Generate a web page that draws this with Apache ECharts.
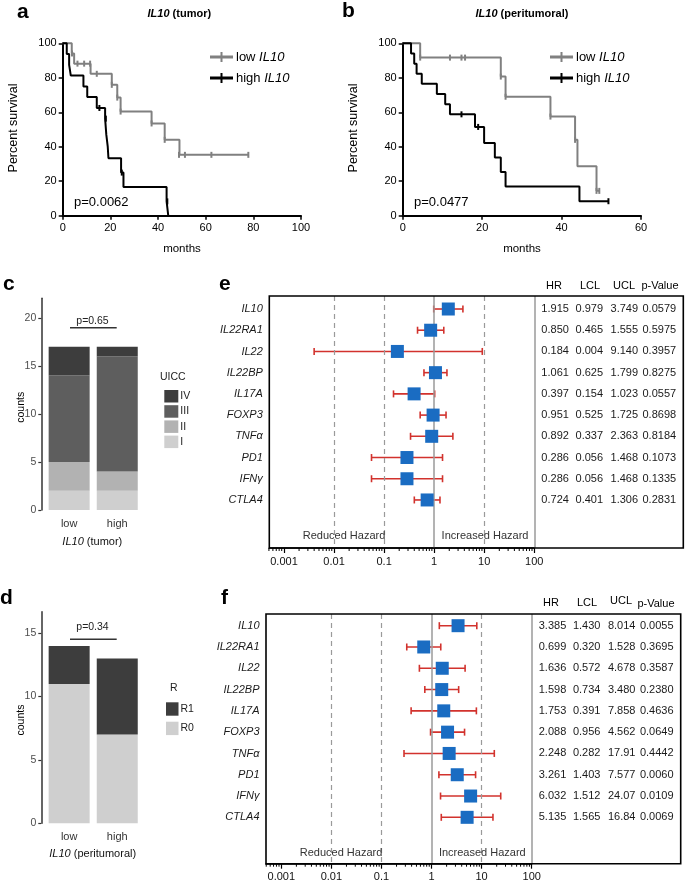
<!DOCTYPE html>
<html><head><meta charset="utf-8">
<script src="https://cdn.jsdelivr.net/npm/echarts@6/dist/echarts.min.js"></script>
<style>html,body{margin:0;padding:0;background:#fff}#c{width:685px;height:884px}</style>
</head><body><div id="c"></div>
<script>
// ---------- DATA ----------
// Panel a: IL10 (tumor) Kaplan-Meier [months, % survival]
const kmA_low = [[0,100],[3.8,94.1],[4.8,88.2],[11.7,82.3],[20.6,75.9],[22.9,68.5],[24.3,60.4],[37.3,53.5],[42.8,44],[49,35.3],[78,35.3]];
const censorA_low = [[3.9,94.1],[6.2,88.2],[9,88.2],[11.5,88.2],[14.3,82.3],[20.6,75.9],[22.9,68.5],[24.3,60.4],[37.3,53.5],[42.8,44],[48.8,35.3],[51.3,35.3],[62.4,35.3],[77.9,35.3]];
const kmA_high = [[0,100],[1.7,93.8],[2.7,87.5],[3.4,81.3],[8.7,75],[10.3,68.8],[14.3,62.5],[17.8,56.3],[18.3,47],[18.9,40],[19.2,33.3],[24.5,25],[25.5,16.7],[43.6,8.3],[44.3,0]];
const censorA_high = [[15.4,62.5],[18.1,56.3],[24.8,25],[43.9,8.3]];
// Panel b: IL10 (peritumoral)
const kmB_low = [[0,100],[4.4,91.7],[24.7,80.7],[25.9,69],[37.2,57.5],[43.4,44],[44,28.7],[48.8,14.4],[49.5,14.4]];
const censorB_low = [[4.4,91.7],[11.9,91.7],[14.8,91.7],[15.7,91.7],[24.7,80.7],[25.9,69],[37.2,57.5],[43.4,44],[48.8,14.4],[49.5,14.4]];
const kmB_high = [[0,100],[2.1,94.1],[2.9,88.2],[3.5,82.4],[4.8,76.5],[8.6,70.6],[10.7,64.7],[11.9,58.8],[18.2,51.5],[20.5,42.2],[23.2,33.8],[24.7,25.3],[25.9,16.9],[44.5,8.4],[51.8,8.4]];
const censorB_high = [[14.8,58.8],[19,51.5],[51.8,8.4]];
const pA = 'p=0.0062', pB = 'p=0.0477';

// Panel c: UICC stage counts
const barCats = ['low','high'];
const uiccI = [2,2], uiccII = [3,2], uiccIII = [9,12], uiccIV = [3,1];
const pC = 'p=0.65';
// Panel d: resection status
const r0 = [11,7], r1 = [3,6];
const pD = 'p=0.34';

// Panels e/f: Cox hazard ratios
const genes = ['IL10','IL22RA1','IL22','IL22BP','IL17A','FOXP3','TNFα','PD1','IFNγ','CTLA4'];
const hrE  = [1.915,0.850,0.184,1.061,0.397,0.951,0.892,0.286,0.286,0.724];
const lclE = [0.979,0.465,0.004,0.625,0.154,0.525,0.337,0.056,0.056,0.401];
const uclE = [3.749,1.555,9.140,1.799,1.023,1.725,2.363,1.468,1.468,1.306];
const pvE  = ['0.0579','0.5975','0.3957','0.8275','0.0557','0.8698','0.8184','0.1073','0.1335','0.2831'];
const hrF  = [3.385,0.699,1.636,1.598,1.753,2.088,2.248,3.261,6.032,5.135];
const lclF = [1.430,0.320,0.572,0.734,0.391,0.956,0.282,1.403,1.512,1.565];
const uclF = [8.014,1.528,4.678,3.480,7.858,4.562,17.91,7.577,24.07,16.84];
const pvF  = ['0.0055','0.3695','0.3587','0.2380','0.4636','0.0649','0.4442','0.0060','0.0109','0.0069'];
const refLines = [0.001,0.01,0.1,1,10,100];

// ---------- STYLE / LAYOUT ----------
const FONT = '"Liberation Sans", Arial, Helvetica, sans-serif';
const GRAY = '#808080', RED = '#d2322d', BLUE = '#1a6cc2';
const G = {
  a: {left:62.7, top:43.3, width:238.3, height:172.4},
  b: {left:402.7, top:43.3, width:238.3, height:172.4},
  c: {left:45.1, top:298.3, width:96.2, height:211.7},
  d: {left:45.1, top:611.7, width:96.2, height:211.6},
  e: {left:269.3, top:296, width:265, height:252},
  f: {left:266, top:614, width:265.7, height:249.7}
};
const numFmt = v => v >= 10 ? v.toFixed(2) : v.toFixed(3);

const chart = echarts.init(document.getElementById('c'), null, {renderer:'canvas'});

function txt(x, y, text, o) {
  o = o || {};
  return {type:'text', x:x, y:y, rotation:o.rot||0, z:50, silent:true,
    style:{text:text, fontSize:o.size||11, fontFamily:FONT, fontWeight:o.weight||'normal',
      fontStyle:o.style||'normal', fill:o.color||'#000',
      align:o.align||'center', verticalAlign:'middle', textAlign:o.align||'center', textVerticalAlign:'middle',
      rich:o.rich}};
}
function line(x1,y1,x2,y2,color,w){return {type:'line', silent:true, z:50, shape:{x1,y1,x2,y2}, style:{stroke:color, lineWidth:w}};}

function kmXAxis(idx, max) {
  return {type:'value', gridIndex:idx, min:0, max:max, interval:20,
    axisLine:{show:true, onZero:false, lineStyle:{color:'#000', width:2}},
    axisTick:{show:true, length:4, lineStyle:{color:'#000', width:1.5}},
    axisLabel:{fontSize:11, color:'#000', fontFamily:FONT, margin:7},
    splitLine:{show:false}};
}
function kmYAxis(idx) {
  return {type:'value', gridIndex:idx, min:0, max:100, interval:20,
    axisLine:{show:true, onZero:false, lineStyle:{color:'#000', width:2}},
    axisTick:{show:true, length:4, lineStyle:{color:'#000', width:1.5}},
    axisLabel:{fontSize:11, color:'#000', fontFamily:FONT, margin:6},
    splitLine:{show:false}};
}
function barXAxis(idx) {
  return {type:'category', gridIndex:idx, data:barCats,
    axisLine:{show:false}, axisTick:{show:false},
    axisLabel:{fontSize:11, color:'#333', fontFamily:FONT, margin:8}};
}
function barYAxis(idx, max, vals) {
  return {type:'value', gridIndex:idx, min:0, max:max, offset:3.8,
    axisLine:{show:true, lineStyle:{color:'#333', width:1.5}},
    axisTick:{show:true, length:3, customValues:vals, lineStyle:{color:'#333', width:1.2}},
    axisLabel:{fontSize:10.5, color:'#4d4d4d', fontFamily:FONT, margin:5, customValues:vals},
    splitLine:{show:false}};
}
function forestXAxis(idx, min) {
  return {type:'log', logBase:10, gridIndex:idx, min:min, max:100,
    axisLine:{show:true, onZero:false, lineStyle:{color:'#000', width:1.5}},
    axisTick:{show:true, length:5, lineStyle:{color:'#000', width:1.2}},
    axisLabel:{fontSize:11, color:'#111', fontFamily:FONT, margin:8, showMinLabel:false,
      formatter: v => String(+(+v).toPrecision(3))},
    splitLine:{show:false}, minorTick:{show:false}};
}
function forestYAxis(idx, min, max) {
  return {type:'value', gridIndex:idx, min:min, max:max, inverse:true, show:false, splitLine:{show:false}};
}

function kmSeries(name, data, color, gi) {
  return {name:name, type:'line', xAxisIndex:gi, yAxisIndex:gi, data:data, step:'end', symbol:'none',
    lineStyle:{color:color, width:2}, itemStyle:{color:color}, color:color, z:3, clip:false};
}
function censorSeries(name, data, color, gi) {
  return {name:name, type:'scatter', xAxisIndex:gi, yAxisIndex:gi, data:data, symbol:'rect', symbolSize:[2,6],
    itemStyle:{color:color, opacity:1}, z:4, silent:true};
}

function forestSeries(gi, hr, lcl, ucl, pv) {
  const errData = genes.map((g,i) => [i, lcl[i], ucl[i], hr[i]]);
  const ptData = genes.map((g,i) => [hr[i], i]);
  const minor = [];
  for (let k=-4;k<=1;k++) for (let d=2; d<=9; d++) minor.push([+(d*Math.pow(10,k)).toPrecision(3)]);
  return [
    {type:'custom', xAxisIndex:gi, yAxisIndex:gi, data:errData, encode:{x:[1,2], y:0}, clip:false, z:3, silent:true,
      renderItem:(params, api) => {
        const i = params.dataIndex;
        const y = api.coord([1, i])[1];
        const x1 = api.coord([lcl[i], i])[0], x2 = api.coord([ucl[i], i])[0];
        const cs = params.coordSys;
        const right = cs.x + cs.width;
        const st = (t, x, o) => ({type:'text', x:x, y:y, style:Object.assign({text:t, fontSize:11, fontFamily:FONT, fill:'#1a1a1a',
            align:'center', verticalAlign:'middle'}, o||{})});
        return {type:'group', children:[
          {type:'line', shape:{x1:x1, y1:y, x2:x2, y2:y}, style:{stroke:RED, lineWidth:1.6}},
          {type:'line', shape:{x1:x1, y1:y-3.5, x2:x1, y2:y+3.5}, style:{stroke:RED, lineWidth:1.6}},
          {type:'line', shape:{x1:x2, y1:y-3.5, x2:x2, y2:y+3.5}, style:{stroke:RED, lineWidth:1.6}},
          st(genes[i], cs.x - 6.5, {align:'right', fontStyle:'italic'}),
          st(numFmt(hr[i]), right + 20.8),
          st(numFmt(lcl[i]), right + 55),
          st(numFmt(ucl[i]), right + 90),
          st(pv[i], right + 125)
        ]};
      }},
    {type:'scatter', xAxisIndex:gi, yAxisIndex:gi, data:ptData, symbol:'rect', symbolSize:13,
      itemStyle:{color:BLUE, opacity:1}, z:5, silent:true,
      markLine:{silent:true, symbol:'none', label:{show:false}, animation:false,
        data: refLines.map(v => ({xAxis:v, lineStyle:{color:'#9a9a9a', width:(v===1||v===100)?1.5:1.2, type:(v===1||v===100)?'solid':[5,4]}}))}},
    {type:'custom', xAxisIndex:gi, yAxisIndex:gi, data:minor, encode:{x:0}, clip:false, silent:true, z:6,
      renderItem:(params, api) => {
        const cs = params.coordSys;
        const x = api.coord([api.value(0), 0])[0];
        if (x < cs.x - 0.5 || x > cs.x + cs.width + 0.5) return null;
        const yb = cs.y + cs.height;
        return {type:'line', shape:{x1:x, y1:yb, x2:x, y2:yb+3}, style:{stroke:'#000', lineWidth:1}};
      }}
  ];
}

const legIcon = 'path://M0,3.5L23,3.5L23,6.5L0,6.5Z M10.5,0L12.5,0L12.5,10L10.5,10Z';
function kmLegend(left, names) {
  return {orient:'vertical', left:left, top:45, itemWidth:23, itemHeight:10, itemGap:7, icon:legIcon,
    data:names, selectedMode:false,
    formatter: n => (n.indexOf('low')===0 ? 'low' : 'high') + ' {i|IL10}',
    textStyle:{fontSize:13, fontFamily:FONT, color:'#000', lineHeight:14, padding:[0,0,0,-2],
      rich:{i:{fontStyle:'italic', fontSize:13, fontFamily:FONT, color:'#000'}}}};
}

const option = {
  animation:false,
  backgroundColor:'#fff',
  grid: ['a','b','c','d','e','f'].map(k => Object.assign({containLabel:false, outerBoundsMode:'none'}, G[k])),
  xAxis:[kmXAxis(0,100), kmXAxis(1,60), barXAxis(2), barXAxis(3),
    forestXAxis(4, Math.pow(10,-3.2937)), forestXAxis(5, Math.pow(10,-3.3055))],
  yAxis:[kmYAxis(0), kmYAxis(1), barYAxis(2, 22.05, [0,5,10,15,20]), barYAxis(3, 16.7, [0,5,10,15]),
    forestYAxis(4, -0.613, 11.264), forestYAxis(5, -0.549, 11.178)],
  legend:[
    kmLegend(205, ['lowA','highA']),
    kmLegend(545, ['lowB','highB']),
    {orient:'vertical', left:159.3, top:385, itemWidth:14, itemHeight:12.5, itemGap:2.7, icon:'rect', selectedMode:false,
      data:['IV','III','II','I'], textStyle:{fontSize:10.5, fontFamily:FONT, color:'#222', lineHeight:12.5, padding:[0,0,0,-3]}},
    {orient:'vertical', left:161, top:697.3, itemWidth:12.5, itemHeight:13.4, itemGap:6, icon:'rect', selectedMode:false,
      data:['R1','R0'], textStyle:{fontSize:10.5, fontFamily:FONT, color:'#222', lineHeight:13.4, padding:[0,0,0,-3]}}
  ],
  series:[
    kmSeries('lowA', kmA_low, GRAY, 0), censorSeries('lowAc', censorA_low, GRAY, 0),
    kmSeries('highA', kmA_high, '#000', 0), censorSeries('highAc', censorA_high, '#000', 0),
    kmSeries('lowB', kmB_low, GRAY, 1), censorSeries('lowBc', censorB_low, GRAY, 1),
    kmSeries('highB', kmB_high, '#000', 1), censorSeries('highBc', censorB_high, '#000', 1),
    {name:'I', type:'bar', stack:'c', xAxisIndex:2, yAxisIndex:2, data:uiccI, barWidth:41, itemStyle:{color:'#cfcfcf'}},
    {name:'II', type:'bar', stack:'c', xAxisIndex:2, yAxisIndex:2, data:uiccII, barWidth:41, itemStyle:{color:'#b2b2b2'}},
    {name:'III', type:'bar', stack:'c', xAxisIndex:2, yAxisIndex:2, data:uiccIII, barWidth:41, itemStyle:{color:'#5e5e5e'}},
    {name:'IV', type:'bar', stack:'c', xAxisIndex:2, yAxisIndex:2, data:uiccIV, barWidth:41, itemStyle:{color:'#3d3d3d'}},
    {name:'R0', type:'bar', stack:'d', xAxisIndex:3, yAxisIndex:3, data:r0, barWidth:41, itemStyle:{color:'#cfcfcf'}},
    {name:'R1', type:'bar', stack:'d', xAxisIndex:3, yAxisIndex:3, data:r1, barWidth:41, itemStyle:{color:'#3d3d3d'}},
    ...forestSeries(4, hrE, lclE, uclE, pvE),
    ...forestSeries(5, hrF, lclF, uclF, pvF)
  ],
  graphic:[
    // panel letters
    txt(17, 12.5, 'a', {size:21, weight:'bold', align:'left'}),
    txt(342, 11, 'b', {size:21, weight:'bold', align:'left'}),
    txt(3, 284.6, 'c', {size:21, weight:'bold', align:'left'}),
    txt(0, 598.3, 'd', {size:21, weight:'bold', align:'left'}),
    txt(219, 284.3, 'e', {size:21, weight:'bold', align:'left'}),
    txt(221, 598.6, 'f', {size:21, weight:'bold', align:'left'}),
    // KM titles and labels
    txt(179.3, 14, '{i|IL10} (tumor)', {size:11, weight:'bold', rich:{i:{fontStyle:'italic', fontWeight:'bold', fontSize:11, fontFamily:FONT}}}),
    txt(522, 14, '{i|IL10} (peritumoral)', {size:11, weight:'bold', rich:{i:{fontStyle:'italic', fontWeight:'bold', fontSize:11, fontFamily:FONT}}}),
    txt(14, 128, 'Percent survival', {size:12.5, rot:Math.PI/2}),
    txt(354, 128, 'Percent survival', {size:12.5, rot:Math.PI/2}),
    txt(182, 249, 'months', {size:11.5}),
    txt(522, 249, 'months', {size:11.5}),
    txt(74, 202.7, pA, {size:13, align:'left'}),
    txt(414, 202.7, pB, {size:13, align:'left'}),
    // bar panels
    txt(21, 407.3, 'counts', {size:10.5, rot:Math.PI/2}),
    txt(21, 720, 'counts', {size:10.5, rot:Math.PI/2}),
    txt(92.3, 542.3, '{i|IL10} (tumor)', {size:11, color:'#111', rich:{i:{fontStyle:'italic', fontSize:11, fontFamily:FONT, fill:'#111'}}}),
    txt(92.7, 854, '{i|IL10} (peritumoral)', {size:11, color:'#111', rich:{i:{fontStyle:'italic', fontSize:11, fontFamily:FONT, fill:'#111'}}}),
    txt(92.5, 321.5, pC, {size:10.5, color:'#222'}),
    line(70, 327.7, 116.7, 327.7, '#333', 1.5),
    txt(92.5, 626.7, pD, {size:10.5, color:'#222'}),
    line(70, 639.3, 116.7, 639.3, '#333', 1.5),
    txt(160, 376.7, 'UICC', {size:10.5, align:'left', color:'#222'}),
    txt(170, 688, 'R', {size:10.5, align:'left', color:'#222'}),
    // forest boxes
    {type:'rect', silent:true, z:40, shape:{x:G.e.left, y:G.e.top, width:414, height:G.e.height}, style:{fill:'none', stroke:'#000', lineWidth:1.6}},
    {type:'rect', silent:true, z:40, shape:{x:G.f.left, y:G.f.top, width:414.7, height:G.f.height}, style:{fill:'none', stroke:'#000', lineWidth:1.6}},
    txt(554, 286, 'HR'), txt(590, 286, 'LCL'), txt(624, 286, 'UCL'), txt(660, 286, 'p-Value'),
    txt(551, 603, 'HR'), txt(587, 603, 'LCL'), txt(621, 600.5, 'UCL'), txt(656, 603.5, 'p-Value'),
    txt(344, 536, 'Reduced Hazard', {color:'#333'}), txt(485, 536, 'Increased Hazard', {color:'#333'}),
    txt(341, 853, 'Reduced Hazard', {color:'#333'}), txt(482.3, 853, 'Increased Hazard', {color:'#333'})
  ]
};
chart.setOption(option);
</script></body></html>
